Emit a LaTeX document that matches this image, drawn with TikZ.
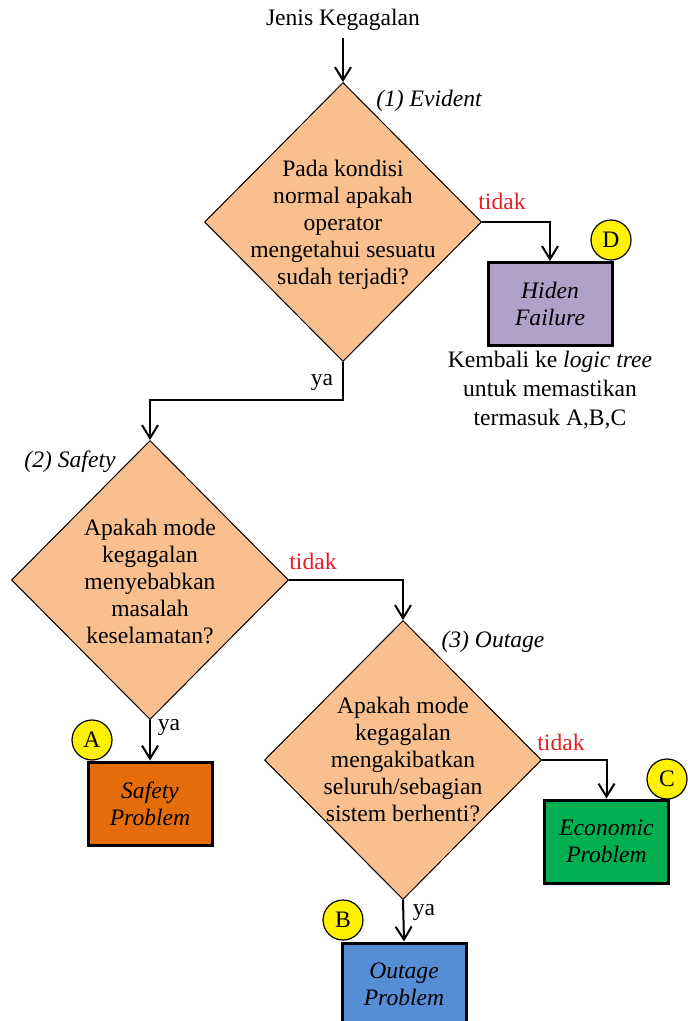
\documentclass[tikz,border=0pt]{standalone}
\usepackage{fontspec}
\setmainfont{Liberation Serif}
\usetikzlibrary{shapes.geometric,arrows.meta}

\definecolor{peach}{HTML}{F9BF8F}
\definecolor{lilac}{HTML}{B1A0C7}
\definecolor{rust}{HTML}{E46C0A}
\definecolor{skyblue}{HTML}{558ED5}
\definecolor{leaf}{HTML}{00B050}
\definecolor{nored}{HTML}{E41E26}

\tikzset{
  decision/.style={draw=black, line width=0.5pt, fill=peach, diamond, inner sep=0pt,
    minimum width=138.5pt, minimum height=139.5pt},
  dtext/.style={align=center, font=\fontsize{11.8}{13.5}\selectfont},
  result/.style={draw=black, line width=1.5pt, rectangle, minimum width=62pt, minimum height=41.5pt,
    align=center, font=\fontsize{11.8}{13.5}\selectfont\itshape},
  tag/.style={draw=black, line width=0.6pt, fill=yellow, circle, inner sep=0pt, minimum size=20pt,
    font=\fontsize{11.8}{13.5}\selectfont},
  flow/.style={line width=1pt, -{Straight Barb[length=6.5pt, width=8pt, line width=1pt]}},
  plain/.style={font=\fontsize{11.8}{13.5}\selectfont},
  nolabel/.style={font=\fontsize{11.8}{13.5}\selectfont, text=nored}
}

\begin{document}
\begin{tikzpicture}[x=0.5pt, y=-0.5pt]
  \useasboundingbox (0,0) rectangle (688,1021);

  \node[plain] (start) at (343,20) {Jenis Kegagalan};

  % keputusan
  \node[decision] (d1) at (343,222) {};
  \node[dtext] (d1t) at (343,225) {Pada kondisi\\normal apakah\\operator\\mengetahui sesuatu\\sudah terjadi?};
  \node[decision] (d2) at (150,580) {};
  \node[dtext] (d2t) at (150,581) {Apakah mode\\kegagalan\\menyebabkan\\masalah\\keselamatan?};
  \node[decision] (d3) at (403,760) {};
  \node[dtext] (d3t) at (403,759) {Apakah mode\\kegagalan\\mengakibatkan\\seluruh/sebagian\\sistem berhenti?};

  \node[plain, font=\fontsize{11.8}{13.5}\selectfont\itshape] (l1) at (429,101) {(1) Evident};
  \node[plain, font=\fontsize{11.8}{13.5}\selectfont\itshape] (l2) at (70,462) {(2) Safety};
  \node[plain, font=\fontsize{11.8}{13.5}\selectfont\itshape] (l3) at (493,642) {(3) Outage};

  % hasil
  \node[result, fill=lilac] (hf) at (550,304) {Hiden\\Failure};
  \node[result, fill=rust] (sp) at (150,803.5) {Safety\\Problem};
  \node[result, fill=skyblue] (op) at (404,984.5) {Outage\\Problem};
  \node[result, fill=leaf] (ep) at (606.5,841.5) {Economic\\Problem};

  \node[tag] (tD) at (611,240) {D};
  \node[tag] (tA) at (92,740) {A};
  \node[tag] (tB) at (343,920) {B};
  \node[tag] (tC) at (667,779) {C};

  \node[plain, align=center, font=\fontsize{11.8}{14.5}\selectfont] (note) at (550,390)
    {Kembali ke \textit{logic tree}\\untuk memastikan\\termasuk A,B,C};

  % panah
  \draw[flow] (start) -- (d1.north);
  \draw[flow] (d1.east) -| (hf.north);
  \draw[flow] (d1.south) -- ++(0,38) -| (d2.north);
  \draw[flow] (d2.east) -| (d3.north);
  \draw[flow] (d2.south) -- (sp.north);
  \draw[flow] (d3.east) -| (ep.north);
  \draw[flow] (d3.south) -- (op.north);

  \node[nolabel] (n1) at (502,201) {tidak};
  \node[nolabel] (n2) at (313,561) {tidak};
  \node[nolabel] (n3) at (561,742) {tidak};
  \node[plain] (y1) at (322,383) {ya};
  \node[plain] (y2) at (169,728) {ya};
  \node[plain] (y3) at (424,912) {ya};
\end{tikzpicture}
\end{document}
